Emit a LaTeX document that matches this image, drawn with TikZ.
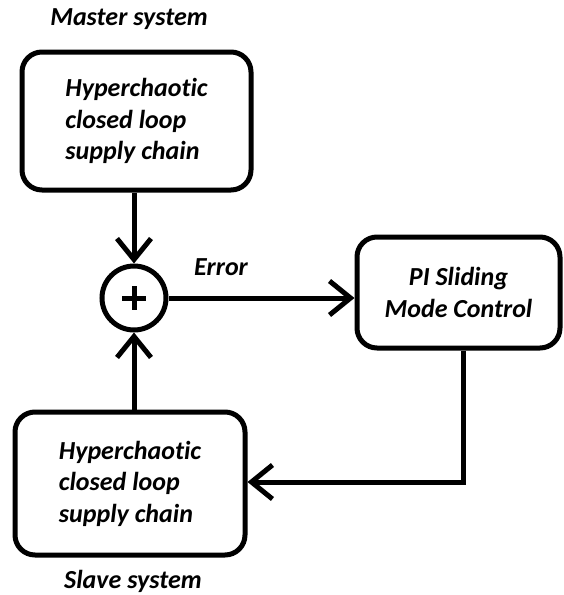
\documentclass[tikz,border=0pt]{standalone}
\usepackage{fontspec}
\setmainfont[Ligatures=NoCommon]{Carlito}
\usetikzlibrary{arrows.meta}
\begin{document}
\begin{tikzpicture}[x=1pt,y=-1pt,
  every node/.style={font=\fontsize{26}{31.5}\selectfont\bfseries\itshape},
  blk/.style={draw, line width=5pt, rounded corners=20pt, inner sep=0pt},
  sumnode/.style={draw, circle, line width=5pt, minimum size=64pt, inner sep=0pt},
  conn/.style={line width=5pt, -{Straight Barb[length=21pt,width=34pt]}},
  plain/.style={draw=none, inner sep=0pt}]
\useasboundingbox (0,0) rectangle (563,595);
\node[blk, minimum width=229pt, minimum height=138pt, align=left] (master) at (136.5,121) {Hyperchaotic\\closed loop\\supply chain};
\node[blk, minimum width=203pt, minimum height=111pt, align=center] (pi) at (458.5,292.5) {PI Sliding\\Mode Control};
\node[blk, minimum width=230pt, minimum height=143pt, align=left] (slave) at (130,483.5) {Hyperchaotic\\closed loop\\supply chain};
\node[sumnode] (sum) at (134,298) {};
\draw[line width=5pt] (122,298) -- (146,298) (134,286) -- (134,310);
\node[plain] (err) at (221,267) {Error};
\node[plain] (mlab) at (129,19) {Master system};
\node[plain] (slab) at (133,581) {Slave system};
\draw[conn] (master.south -| sum) -- (sum.north);
\draw[conn] (slave.north -| sum) -- (sum.south);
\draw[conn] (sum.east) -- (sum.east -| pi.west);
\coordinate (corner) at (463,482);
\draw[conn] (pi.south -| corner) -- (corner) -- (corner -| slave.east);
\end{tikzpicture}
\end{document}
